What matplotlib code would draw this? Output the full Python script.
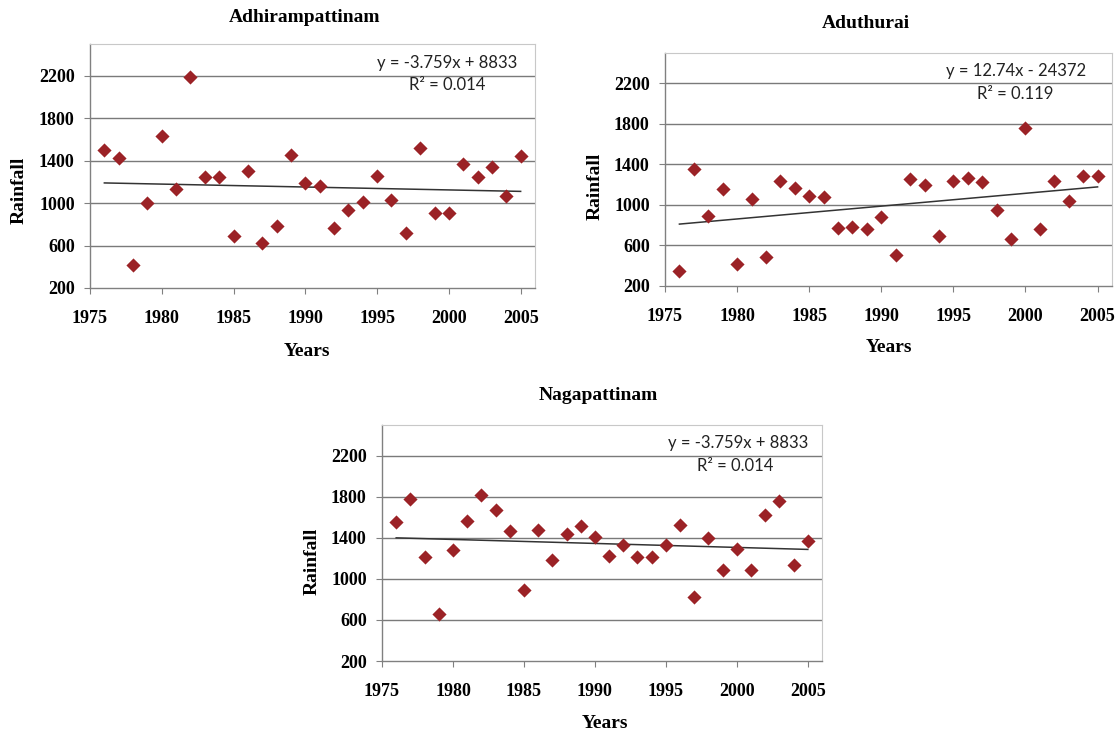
import matplotlib
matplotlib.use("Agg")
import matplotlib.pyplot as plt
import numpy as np

YEARS = list(range(1976, 2006))

ADHIRAMPATTINAM = [1504, 1425, 421, 1000, 1629, 1133, 2190, 1250, 1250, 688,
                   1300, 625, 782, 1457, 1187, 1159, 766, 936, 1008, 1253,
                   1033, 716, 1519, 908, 904, 1369, 1243, 1344, 1071, 1447]
ADUTHURAI = [351, 1351, 888, 1154, 416, 1059, 488, 1236, 1167, 1092,
             1079, 777, 783, 760, 882, 505, 1259, 1193, 695, 1236,
             1265, 1223, 947, 665, 1757, 767, 1236, 1039, 1285, 1285]
NAGAPATTINAM = [1551, 1781, 1213, 658, 1278, 1567, 1820, 1674, 1469, 895,
                1479, 1187, 1440, 1512, 1408, 1219, 1327, 1210, 1213, 1327,
                1521, 820, 1398, 1090, 1294, 1083, 1625, 1755, 1135, 1366]

EQUATIONS = [
    ("y = -3.759x + 8833", "R² = 0.014"),
    ("y = 12.74x - 24372", "R² = 0.119"),
    ("y = -3.759x + 8833", "R² = 0.014"),
]
TITLES = ["Adhirampattinam", "Aduthurai", "Nagapattinam"]

W, H = 1118, 734
SERIF = "Liberation Serif"
MARKER_COLOR = "#9b2226"

# panel boxes in pixels: left, top, right, bottom
BOXES = [(90, 44, 535, 288), (665, 53, 1112, 286), (382, 425, 822, 661)]
TITLE_POS = [(305, 18), (866, 24), (598, 396)]
YLABEL_POS = [(19, 190), (595, 186), (312, 561)]
XLABEL_POS = [(307, 351), (889, 348), (605, 724)]
# equation (right edge, y) and R² (center x, y) in axes fractions
EQ_POS = [(0.96, 0.922), (0.942, 0.923), (0.968, 0.924)]
R2_POS = [(0.802, 0.832), (0.783, 0.824), (0.802, 0.826)]

fig = plt.figure(figsize=(W / 100, H / 100), dpi=100)


def fx(x):
    return x / W


def fy(y):
    return 1 - y / H


for i, values in enumerate([ADHIRAMPATTINAM, ADUTHURAI, NAGAPATTINAM]):
    l, t, r, b = BOXES[i]
    ax = fig.add_axes([fx(l), fy(b), (r - l) / W, (b - t) / H])
    ax.scatter(YEARS, values, marker="D", s=52, color=MARKER_COLOR, zorder=3,
               linewidths=0)
    slope, icpt = np.polyfit(YEARS, values, 1)
    xs = np.array([YEARS[0], YEARS[-1]])
    ax.plot(xs, slope * xs + icpt, color="#333333", lw=1.1, zorder=2)

    ax.set_xlim(1975, 2006)
    ax.set_ylim(200, 2500)
    ax.set_xticks(range(1975, 2006, 5))
    ax.set_yticks(range(200, 2201, 400))
    for v in range(600, 2201, 400):
        ax.axhline(v, color="#7a7a7a", lw=1.0, zorder=1)
    for side in ("top", "right"):
        ax.spines[side].set_color("#c8c8c8")
    for side in ("left", "bottom"):
        ax.spines[side].set_color("#808080")
        ax.spines[side].set_linewidth(1.0)
    ax.tick_params(axis="x", length=4, pad=12, color="#808080")
    ax.tick_params(axis="y", length=4, pad=7, color="#808080")
    for lab in ax.get_xticklabels() + ax.get_yticklabels():
        lab.set_fontfamily(SERIF)
        lab.set_fontweight("bold")
        lab.set_fontsize(13)

    eq, r2 = EQUATIONS[i]
    ex, ey = EQ_POS[i]
    ax.text(ex, ey, eq, transform=ax.transAxes, ha="right", va="center",
            fontsize=12, family="Lato", color="#222222")
    rx, ry = R2_POS[i]
    ax.text(rx, ry, r2, transform=ax.transAxes, ha="center", va="center",
            fontsize=12, family="Lato", color="#222222")

    tx, ty = TITLE_POS[i]
    fig.text(fx(tx), fy(ty), TITLES[i], ha="center", va="center",
             fontsize=14, fontweight="bold", family=SERIF)
    yx, yy = YLABEL_POS[i]
    fig.text(fx(yx), fy(yy), "Rainfall", ha="center", va="center", rotation=90,
             fontsize=14, fontweight="bold", family=SERIF)
    xx, xy = XLABEL_POS[i]
    fig.text(fx(xx), fy(xy), "Years", ha="center", va="center",
             fontsize=14, fontweight="bold", family=SERIF)

fig.savefig("out.png", dpi=100)
